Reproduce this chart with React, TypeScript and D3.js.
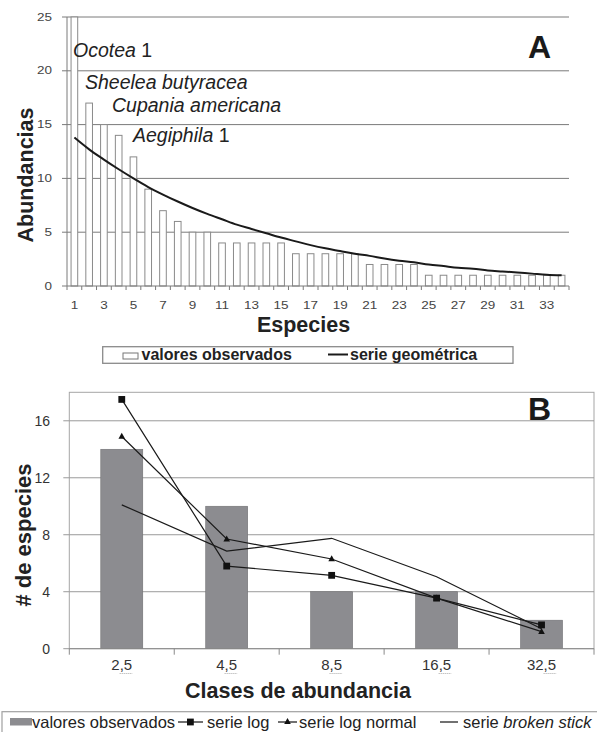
import React from "react";
import * as d3 from "d3";

// ---------- Chart A data ----------
const speciesRanks = [1,2,3,4,5,6,7,8,9,10,11,12,13,14,15,16,17,18,19,20,21,22,23,24,25,26,27,28,29,30,31,32,33,34];
const observedAbund = [30,17,15,14,12,9,7,6,5,5,4,4,4,4,4,3,3,3,3,3,2,2,2,2,1,1,1,1,1,1,1,1,1,1];
const geometricSeries = [13.8,12.7,11.75,10.85,10.0,9.2,8.5,7.85,7.25,6.7,6.2,5.7,5.3,4.9,4.5,4.15,3.8,3.5,3.25,3.0,2.8,2.55,2.35,2.2,2.0,1.85,1.7,1.6,1.45,1.35,1.25,1.15,1.05,1.0];
const yTicksA = [0,5,10,15,20,25];
const xTickLabelsA = [1,3,5,7,9,11,13,15,17,19,21,23,25,27,29,31,33];
const annotationNames = ["Ocotea", "Sheelea butyracea", "Cupania americana", "Aegiphila"];
const annotationSuffix = [" 1", "", "", " 1"];
const legendA = ["valores observados", "serie geométrica"];

// ---------- Chart B data ----------
const classLabels = ["2,5","4,5","8,5","16,5","32,5"];
const observedClasses = [14,10,4,4,2];
const logSeries = [17.5,5.8,5.15,3.55,1.67];
const logNormalSeries = [14.9,7.7,6.3,3.55,1.2];
const brokenStickSeries = [10.1,6.85,7.75,5.05,1.4];
const yTicksB = [0,4,8,12,16];

const FONT = "'Liberation Sans', Arial, Helvetica, sans-serif";

// Arial-like advance widths (em) for label underline placement
const charW: Record<string, number> = { ",": 0.278 };
const wOf = (s: string) => s.split("").reduce((a, c) => a + (charW[c] ?? 0.556), 0);

export default function App() {
  const W = 597, H = 732;

  // ---- scales A ----
  const aL = 67, aR = 569, aT = 17, aB = 286;
  const xA = d3.scaleBand<number>().domain(speciesRanks).range([aL, aR]).paddingInner(0.55).paddingOuter(0.275);
  const yA = d3.scaleLinear().domain([0, 25]).range([aB, aT]).clamp(true);
  const xAedge = d3.scaleLinear().domain([0, speciesRanks.length]).range([aL, aR]);
  const cx = (d: number) => (xA(d) as number) + xA.bandwidth() / 2;
  const geoLine = d3.line<number>()
    .x((_, i) => cx(speciesRanks[i]))
    .y((v) => yA(v))
    .curve(d3.curveMonotoneX);

  // ---- scales B ----
  const bL = 69.3, bR = 594, bT = 392.3, bB = 648.7;
  const xB = d3.scaleBand<string>().domain(classLabels).range([bL, bR]).paddingInner(0.6).paddingOuter(0.3);
  const yB = d3.scaleLinear().domain([0, 18]).range([bB, bT]);
  const cxB = (d: string) => (xB(d) as number) + xB.bandwidth() / 2;
  const lineB = d3.line<number>().x((_, i) => cxB(classLabels[i])).y((v) => yB(v));
  const xBedge = d3.scaleLinear().domain([0, classLabels.length]).range([bL, bR]);

  const annX = [73, 85, 112, 133];
  const annY = [57, 89, 112, 142];

  const tri = (x: number, y: number, s: number) =>
    `M${x},${y - s * 0.6}L${x + s * 0.55},${y + s * 0.4}L${x - s * 0.55},${y + s * 0.4}Z`;

  const xbFs = 15;

  return (
    <svg width={W} height={H} style={{ position: "absolute", left: 0, top: 0, background: "#fff" }} fontFamily={FONT}>
      <rect x={0} y={0} width={W} height={H} fill="#fff" />
      {/* ================= CHART A ================= */}
      {yTicksA.map((t) => (
        <g key={"ga" + t}>
          {t > 0 && <line x1={aL} x2={aR} y1={yA(t)} y2={yA(t)} stroke="#7a7a7a" strokeWidth={1} />}
          <line x1={aL - 5} x2={aL} y1={yA(t)} y2={yA(t)} stroke="#7a7a7a" strokeWidth={1} />
          <text transform={`translate(52,${yA(t) + 3.6}) scale(1.35,1)`} textAnchor="end" fontSize={10} fill="#444">{t}</text>
        </g>
      ))}
      {speciesRanks.map((r, i) => (
        <rect key={"ba" + r} x={xA(r)} y={yA(observedAbund[i])} width={xA.bandwidth()}
          height={aB - yA(observedAbund[i])} fill="#fff" stroke="#8a8a8a" strokeWidth={1} />
      ))}
      <line x1={aL} x2={aL} y1={aT} y2={aB} stroke="#7a7a7a" strokeWidth={1} />
      <line x1={aL} x2={aR} y1={aB} y2={aB} stroke="#7a7a7a" strokeWidth={1} />
      {d3.range(speciesRanks.length + 1).map((k) => (
        <line key={"ta" + k} x1={xAedge(k)} x2={xAedge(k)} y1={aB} y2={aB + 4} stroke="#7a7a7a" strokeWidth={1} />
      ))}
      <path d={geoLine(geometricSeries) || ""} fill="none" stroke="#1a1a1a" strokeWidth={2} />
      {xTickLabelsA.map((l) => (
        <text key={"xa" + l} transform={`translate(${cx(l)},308.5) scale(1.35,1)`} textAnchor="middle" fontSize={10} fill="#444">{l}</text>
      ))}
      {annotationNames.map((n, i) => (
        <text key={"an" + i} x={annX[i]} y={annY[i]} fontSize={19.5} fill="#222">
          <tspan fontStyle="italic">{n}</tspan>{annotationSuffix[i]}
        </text>
      ))}
      <text x={528} y={58} fontSize={32} fontWeight="bold" fill="#1a1a1a">A</text>
      <text transform="translate(33,175) rotate(-90)" textAnchor="middle" fontSize={21.5} fontWeight="bold" fill="#222">Abundancias</text>
      <text x={303.5} y={332} textAnchor="middle" fontSize={21.5} fontWeight="bold" fill="#222">Especies</text>
      {/* legend A */}
      <rect x={102.7} y={346.7} width={410.3} height={16.6} fill="#fff" stroke="#8a8a8a" strokeWidth={1.3} />
      <rect x={123} y={353} width={15} height={6} fill="#fff" stroke="#777" strokeWidth={1} />
      <text x={141.5} y={360} fontSize={16} fontWeight="bold" fill="#222">{legendA[0]}</text>
      <line x1={328} x2={348} y1={354.5} y2={354.5} stroke="#1a1a1a" strokeWidth={2} />
      <text x={350} y={360} fontSize={16} fontWeight="bold" fill="#222">{legendA[1]}</text>

      {/* ================= CHART B ================= */}
      <rect x={bL} y={bT} width={bR - bL} height={bB - bT} fill="#fff" stroke="#a5a5a5" strokeWidth={1} />
      {yTicksB.map((t) => (
        <g key={"gb" + t}>
          {t > 0 && <line x1={bL} x2={bR} y1={yB(t)} y2={yB(t)} stroke="#9a9a9a" strokeWidth={1} />}
          <line x1={bL - 6} x2={bL} y1={yB(t)} y2={yB(t)} stroke="#9a9a9a" strokeWidth={1} />
          <text x={50} y={yB(t) + 5} textAnchor="end" fontSize={14} fill="#333">{t}</text>
        </g>
      ))}
      {classLabels.map((c, i) => (
        <rect key={"bb" + c} x={xB(c)} y={yB(observedClasses[i])} width={xB.bandwidth()}
          height={bB - yB(observedClasses[i])} fill="#8c8c90" stroke="#6f6f72" strokeWidth={0.6} />
      ))}
      <line x1={bL} x2={bR} y1={bB} y2={bB} stroke="#8a8a8a" strokeWidth={1} />
      {d3.range(classLabels.length + 1).map((k) => (
        <line key={"tb" + k} x1={xBedge(k)} x2={xBedge(k)} y1={bB} y2={bB + 6} stroke="#8a8a8a" strokeWidth={1} />
      ))}
      <path d={lineB(brokenStickSeries) || ""} fill="none" stroke="#1a1a1a" strokeWidth={1.2} />
      <path d={lineB(logNormalSeries) || ""} fill="none" stroke="#1a1a1a" strokeWidth={1.2} />
      <path d={lineB(logSeries) || ""} fill="none" stroke="#1a1a1a" strokeWidth={1.2} />
      {logNormalSeries.map((v, i) => (
        <path key={"tr" + i} d={tri(cxB(classLabels[i]), yB(v), 6)} fill="#111" />
      ))}
      {logSeries.map((v, i) => (
        <rect key={"sq" + i} x={cxB(classLabels[i]) - 3.4} y={yB(v) - 3.4} width={6.8} height={6.8} fill="#111" />
      ))}
      {classLabels.map((c) => {
        const total = wOf(c) * xbFs;
        const head = wOf(c.split(",")[0]) * xbFs;
        const x0 = cxB(c) - total / 2;
        return (
          <g key={"xb" + c}>
            <text x={cxB(c)} y={670} textAnchor="middle" fontSize={xbFs} fill="#333">{c}</text>
            <line x1={x0 + head} x2={x0 + total} y1={673.5} y2={673.5} stroke="#aaa" strokeWidth={1} strokeDasharray="1,1" />
          </g>
        );
      })}
      <text x={528} y={420} fontSize={32} fontWeight="bold" fill="#1a1a1a">B</text>
      <text transform="translate(31,535) rotate(-90)" textAnchor="middle" fontSize={22} fontWeight="bold" fill="#222"># de especies</text>
      <text x={298} y={698} textAnchor="middle" fontSize={21.5} fontWeight="bold" fill="#222">Clases de abundancia</text>
      {/* legend B */}
      <rect x={2} y={711.7} width={600} height={30} fill="#fff" stroke="#a0a0a0" strokeWidth={1.2} />
      <rect x={10} y={718} width={22} height={7.5} fill="#8c8c90" />
      <text x={32} y={727.5} fontSize={16.5} fill="#222">valores observados</text>
      <line x1={178} x2={203} y1={722} y2={722} stroke="#111" strokeWidth={1.2} />
      <rect x={187} y={718.6} width={6.8} height={6.8} fill="#111" />
      <text x={207} y={727.5} fontSize={16.5} fill="#222">serie log</text>
      <line x1={278} x2={297} y1={722} y2={722} stroke="#111" strokeWidth={1.2} />
      <path d={tri(287.5, 721.5, 6)} fill="#111" />
      <text x={299} y={727.5} fontSize={16.5} fill="#222">serie log normal</text>
      <line x1={440} x2={458} y1={722} y2={722} stroke="#111" strokeWidth={1.2} />
      <text x={463} y={727.5} fontSize={16.5} fill="#222">serie <tspan fontStyle="italic">broken stick</tspan></text>
    </svg>
  );
}
